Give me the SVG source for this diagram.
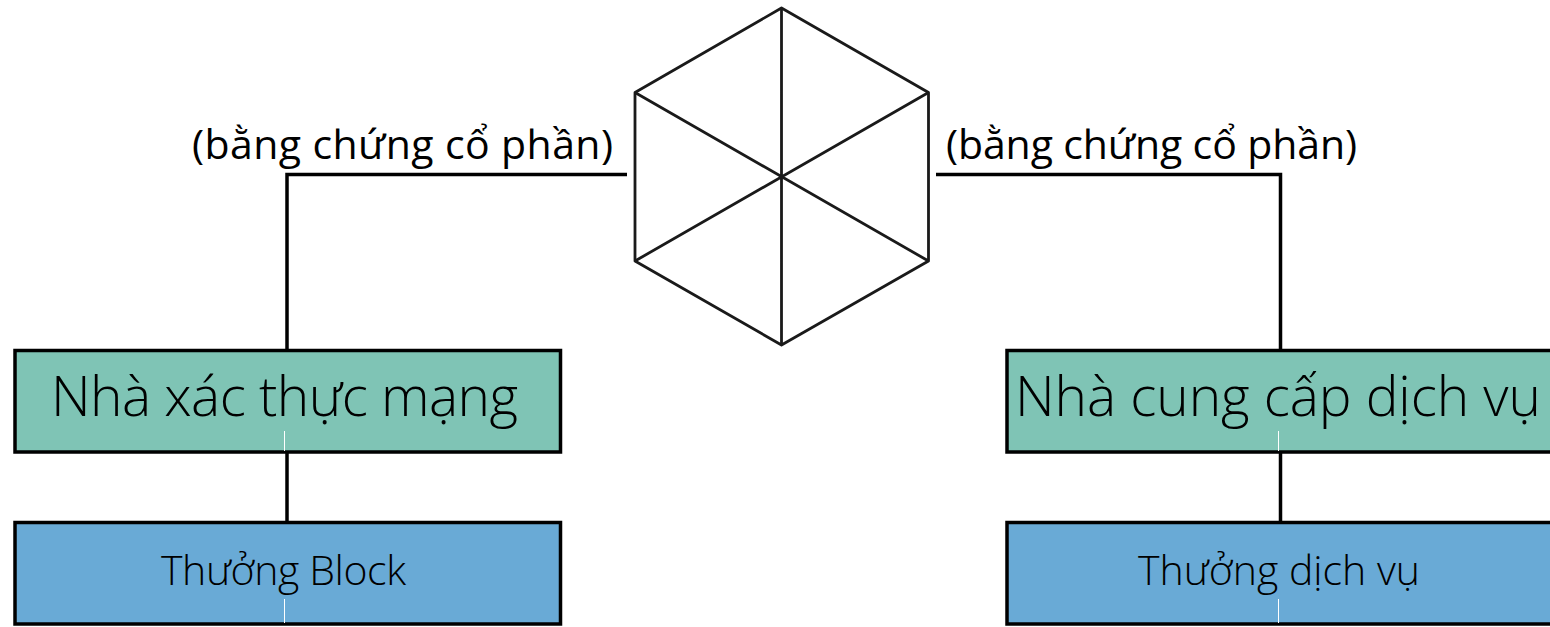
<svg xmlns="http://www.w3.org/2000/svg" width="1550" height="627" viewBox="0 0 1550 627">
<style>
.box{stroke:#000;stroke-width:3.500}
.green{fill:#7fc4b5}
.blue{fill:#69aad6}
.tick{stroke:#fff;stroke-width:1;fill:none}
.conn{stroke:#000;stroke-width:3.500;fill:none}
.hex{stroke:#1a1a1a;stroke-width:2.800;fill:none;stroke-linejoin:round}
text{font-family:"Open Sans","Noto Sans","Liberation Sans",sans-serif;fill:#000}
.big{font-size:55px;font-weight:300}
.mid{font-size:41px;font-weight:300}
.lab{font-size:41px}
</style>
<rect width="1550" height="627" fill="#fff"/>
<g id="connectors">
<path class="conn" d="M627 174.500H287V350"/>
<path class="conn" d="M936 174.500H1280.500V350"/>
<path class="conn" d="M287 452V522"/>
<path class="conn" d="M1280.500 452V522"/>
</g>
<g id="hexagon">
<path class="hex" d="M781.500 8L928.500 92.500V261L781.500 345L635 261V92.500Z"/>
<path class="hex" d="M781.500 8V345M635 92.500L928.500 261M928.500 92.500L635 261"/>
</g>
<g id="label-left"><text class="lab" x="192" y="159" textLength="421">(bằng chứng cổ phần)</text></g>
<g id="label-right"><text class="lab" x="946" y="159" textLength="411">(bằng chứng cổ phần)</text></g>
<g id="node-validator">
<rect class="box green" x="15" y="350.500" width="545.500" height="101.500"/>
<path class="tick" d="M284.500 431V451"/>
<text class="big" x="51" y="416" textLength="467">Nhà xác thực mạng</text>
</g>
<g id="node-provider">
<rect class="box green" x="1007" y="350.500" width="548" height="101.500"/>
<path class="tick" d="M1278.500 431V451"/>
<text class="big" x="1015" y="416" textLength="526">Nhà cung cấp dịch vụ</text>
</g>
<g id="node-block-reward">
<rect class="box blue" x="15" y="522.500" width="545.500" height="101.500"/>
<path class="tick" d="M284.500 599V623"/>
<text class="mid" x="161" y="585" textLength="245">Thưởng Block</text>
</g>
<g id="node-service-reward">
<rect class="box blue" x="1007" y="522.500" width="548" height="101.500"/>
<path class="tick" d="M1278.500 599V623"/>
<text class="mid" x="1138" y="585" textLength="282">Thưởng dịch vụ</text>
</g>
</svg>
